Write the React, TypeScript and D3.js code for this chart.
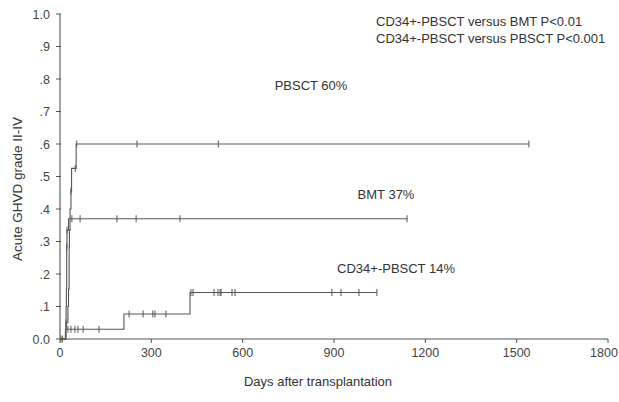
import React, { useRef, useEffect } from 'react';
import * as d3 from 'd3';

// event times (days) and cumulative incidence after each step
const pbsctTimes = [0, 20, 26, 28, 30, 31, 33, 36, 38, 53];
const pbsctValues = [0, 0.05, 0.1, 0.154, 0.283, 0.335, 0.4, 0.455, 0.525, 0.6];
const pbsctEnd = 1540;
const pbsctCensored = [20, 36, 50, 55, 253, 520, 1540];

const bmtTimes = [0, 18, 20, 21, 22, 23, 28];
const bmtValues = [0, 0.03, 0.1, 0.154, 0.283, 0.335, 0.37];
const bmtEnd = 1140;
const bmtCensored = [22, 23, 39, 66, 187, 250, 394, 1140];

const cd34Times = [0, 18, 210, 427];
const cd34Values = [0, 0.03, 0.077, 0.143];
const cd34End = 1041;
const cd34Censored = [3, 8, 26, 36, 49, 59, 76, 128, 227, 273, 305, 312, 348, 430, 437, 506, 519, 526, 529, 565, 575, 893, 923, 982, 1041];

const xTicks = [0, 300, 600, 900, 1200, 1500, 1800];
const yTicks = [0, 0.1, 0.2, 0.3, 0.4, 0.5, 0.6, 0.7, 0.8, 0.9, 1.0];
const yTickLabels = ['0.0', '.1', '.2', '.3', '.4', '.5', '.6', '.7', '.8', '.9', '1.0'];

const curveLabels = [
  { text: 'PBSCT 60%', x: 311, y: 90 },
  { text: 'BMT 37%', x: 386, y: 199 },
  { text: 'CD34+-PBSCT 14%', x: 396, y: 273 },
];
const pValues = ['CD34+-PBSCT versus BMT P<0.01', 'CD34+-PBSCT versus PBSCT P<0.001'];

const W = 619;
const H = 402;
const FONT = '"Liberation Sans", Arial, Helvetica, sans-serif';

const App = () => {
  const ref = useRef<SVGSVGElement>(null);

  useEffect(() => {
    const svg = d3.select(ref.current);
    svg.selectAll('*').remove();

    const x = d3.scaleLinear().domain([0, 1800]).range([60, 608]);
    const y = d3.scaleLinear().domain([0, 1]).range([339, 14]);
    const ink = '#555';

    // axes
    svg.append('line').attr('x1', 60).attr('x2', 60).attr('y1', y(1)).attr('y2', y(0))
      .attr('stroke', ink).attr('stroke-width', 1.1);
    svg.append('line').attr('x1', x(0)).attr('x2', x(1800)).attr('y1', y(0)).attr('y2', y(0))
      .attr('stroke', ink).attr('stroke-width', 1.1);

    yTicks.forEach((t, i) => {
      svg.append('line').attr('x1', 56).attr('x2', 61).attr('y1', y(t)).attr('y2', y(t))
        .attr('stroke', ink);
      svg.append('text').attr('x', 50).attr('y', y(t) + 4.5).attr('text-anchor', 'end')
        .attr('font-family', FONT).attr('font-size', 12.5).attr('fill', '#444')
        .text(yTickLabels[i]);
    });
    xTicks.forEach(t => {
      svg.append('line').attr('x1', x(t)).attr('x2', x(t)).attr('y1', y(0)).attr('y2', y(0) + 4)
        .attr('stroke', ink);
      svg.append('text').attr('x', t === 1800 ? x(t) - 4 : x(t)).attr('y', 357).attr('text-anchor', 'middle')
        .attr('font-family', FONT).attr('font-size', 12.5).attr('fill', '#444')
        .text(t);
    });

    svg.append('text').attr('transform', 'translate(22,189) rotate(-90)').attr('text-anchor', 'middle')
      .attr('font-family', FONT).attr('font-size', 13.5).attr('fill', '#333')
      .text('Acute GHVD grade II-IV');
    svg.append('text').attr('x', 318).attr('y', 386).attr('text-anchor', 'middle')
      .attr('font-family', FONT).attr('font-size', 13).attr('fill', '#333')
      .text('Days after transplantation');

    const series = [
      { times: pbsctTimes, values: pbsctValues, end: pbsctEnd, cens: pbsctCensored },
      { times: bmtTimes, values: bmtValues, end: bmtEnd, cens: bmtCensored },
      { times: cd34Times, values: cd34Values, end: cd34End, cens: cd34Censored },
    ];
    const line = d3.line<[number, number]>().x(d => x(d[0])).y(d => y(d[1])).curve(d3.curveStepAfter);

    series.forEach(s => {
      const pts: [number, number][] = s.times.map((t, i) => [t, s.values[i]]);
      pts.push([s.end, s.values[s.values.length - 1]]);
      svg.append('path').attr('d', line(pts)).attr('fill', 'none').attr('stroke', ink).attr('stroke-width', 1.1);
      const valueAt = (t: number) => {
        const i = d3.bisectRight(s.times, t) - 1;
        return s.values[Math.max(0, i)];
      };
      svg.append('g').selectAll('line').data(s.cens).enter().append('line')
        .attr('x1', d => x(d)).attr('x2', d => x(d))
        .attr('y1', d => y(valueAt(d)) - 3.5).attr('y2', d => y(valueAt(d)) + 3.5)
        .attr('stroke', ink).attr('stroke-width', 1);
    });

    curveLabels.forEach(l => {
      svg.append('text').attr('x', l.x).attr('y', l.y).attr('text-anchor', 'middle')
        .attr('font-family', FONT).attr('font-size', 13).attr('fill', '#333').text(l.text);
    });
    pValues.forEach((p, i) => {
      svg.append('text').attr('x', 376).attr('y', 26 + i * 16.5)
        .attr('font-family', FONT).attr('font-size', 13).attr('fill', '#333').text(p);
    });
  }, []);

  return <svg ref={ref} width={W} height={H} style={{ position: 'absolute', left: 0, top: 0, background: '#fff' }}></svg>;
};

export default App;
